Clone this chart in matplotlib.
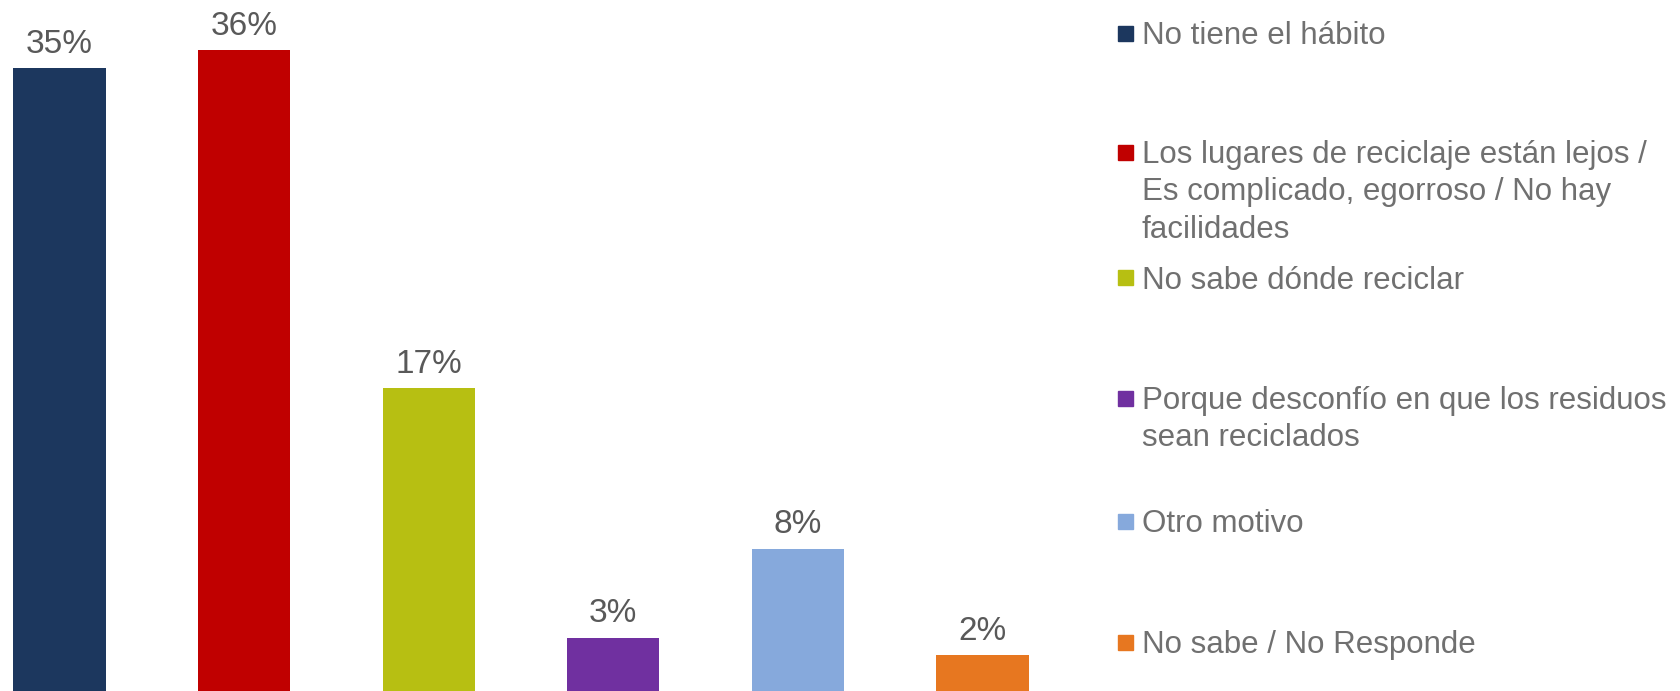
import matplotlib.pyplot as plt
from matplotlib.patches import Rectangle

# Data
categories = [
    'No tiene el hábito',
    'Los lugares de reciclaje están lejos /\nEs complicado, egorroso / No hay\nfacilidades',
    'No sabe dónde reciclar',
    'Porque desconfío en que los residuos\nsean reciclados',
    'Otro motivo',
    'No sabe / No Responde',
]
values = [35, 36, 17, 3, 8, 2]
labels = ['35%', '36%', '17%', '3%', '8%', '2%']
colors = ['#1C375E', '#C00000', '#B7BF12', '#7030A0', '#86A9DC', '#E77720']

# Layout (pixels in the 1681x691 figure)
W, H = 1681, 691
legend_y = [33, 152, 277, 398, 521, 642]
line_gap = 37

plt.rcParams['font.family'] = ['Liberation Sans', 'DejaVu Sans']

fig = plt.figure(figsize=(W / 100, H / 100), dpi=100)
ax = fig.add_axes([0, 0, 1100 / W, 1])

x = list(range(len(values)))
ax.bar(x, values, width=0.5, color=colors)

for xi, v, lab in zip(x, values, labels):
    ax.annotate(lab, (xi, v), xytext=(0, 11), textcoords='offset points',
                ha='center', va='baseline', fontsize=24, color='#595959')

step = 184.6
left = -59.5 / step
ax.set_xlim(left, left + 1100 / step)
ax.set_ylim(0, H / 17.8)
ax.axis('off')

# legend drawn by hand so the marker sits on the first text line
for cat, col, yp in zip(categories, colors, legend_y):
    yf = 1 - yp / H
    fig.patches.append(Rectangle((1118 / W, yf - 7.5 / H), 15 / W, 15 / H,
                                 transform=fig.transFigure, color=col))
    for i, line in enumerate(cat.split('\n')):
        fig.text(1142 / W, 1 - (yp + i * line_gap) / H, line, ha='left',
                 va='center_baseline', fontsize=22.5, color='#707070')

fig.savefig('out.png', dpi=100)
